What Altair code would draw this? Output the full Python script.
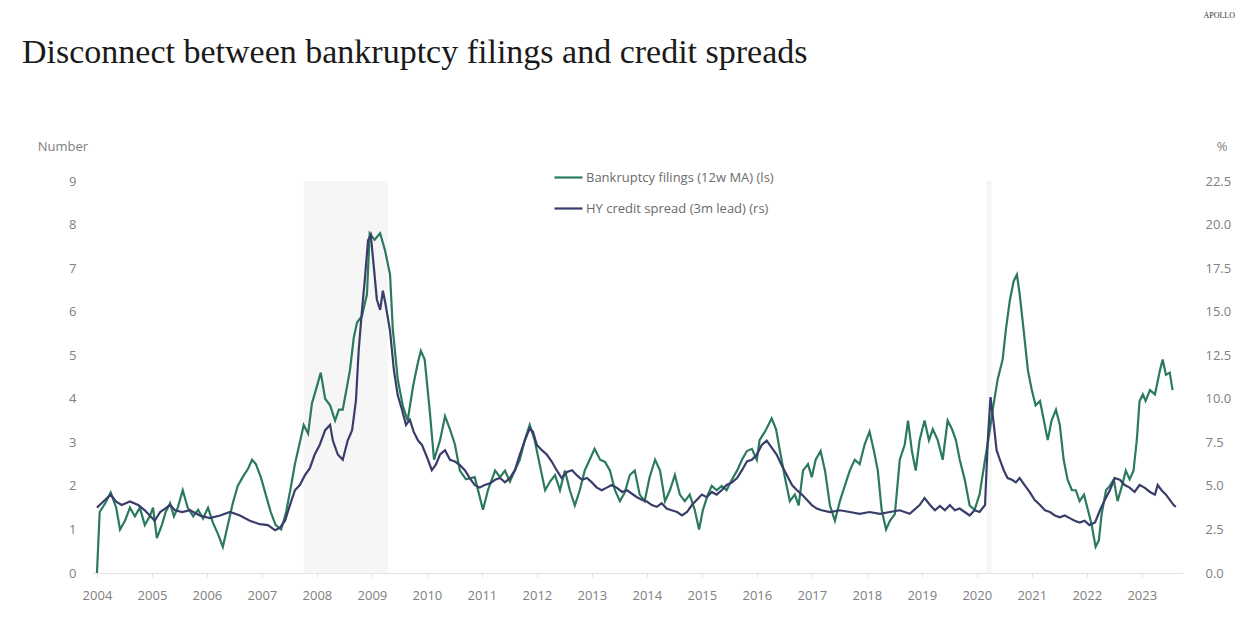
import altair as alt
import pandas as pd

TITLE = "Disconnect between bankruptcy filings and credit spreads"
SERIES = ["Bankruptcy filings (12w MA) (ls)", "HY credit spread (3m lead) (rs)"]
COLORS = ["#2b7a5e", "#383d6a"]

# Bankruptcy filings, 12-week moving average (left axis, number)
bk_year = [2004.00, 2004.05, 2004.15, 2004.25, 2004.35, 2004.42, 2004.51, 2004.60, 2004.69, 2004.78,
           2004.87, 2004.96, 2005.02, 2005.09, 2005.18, 2005.25, 2005.33, 2005.40, 2005.47, 2005.56,
           2005.65, 2005.75, 2005.84, 2005.93, 2006.02, 2006.11, 2006.20, 2006.29, 2006.38, 2006.47,
           2006.56, 2006.65, 2006.75, 2006.82, 2006.89, 2006.98, 2007.07, 2007.16, 2007.25, 2007.35,
           2007.44, 2007.53, 2007.60, 2007.69, 2007.76, 2007.84, 2007.91, 2007.98, 2008.07, 2008.15,
           2008.24, 2008.33, 2008.40, 2008.47, 2008.55, 2008.60, 2008.67, 2008.73, 2008.82, 2008.91,
           2008.96, 2009.05, 2009.15, 2009.24, 2009.33, 2009.38, 2009.47, 2009.56, 2009.65, 2009.75,
           2009.84, 2009.89, 2009.96, 2010.05, 2010.13, 2010.24, 2010.33, 2010.42, 2010.51, 2010.60,
           2010.71, 2010.87, 2011.02, 2011.11, 2011.24, 2011.33, 2011.42, 2011.51, 2011.60, 2011.69,
           2011.78, 2011.87, 2011.96, 2012.05, 2012.15, 2012.24, 2012.33, 2012.42, 2012.51, 2012.60,
           2012.69, 2012.78, 2012.87, 2012.96, 2013.05, 2013.15, 2013.24, 2013.33, 2013.42, 2013.51,
           2013.60, 2013.69, 2013.78, 2013.87, 2013.96, 2014.05, 2014.15, 2014.24, 2014.33, 2014.42,
           2014.51, 2014.60, 2014.69, 2014.78, 2014.87, 2014.95, 2015.02, 2015.11, 2015.18, 2015.27,
           2015.36, 2015.45, 2015.55, 2015.64, 2015.73, 2015.82, 2015.91, 2016.00, 2016.05, 2016.15,
           2016.27, 2016.35, 2016.42, 2016.51, 2016.60, 2016.69, 2016.76, 2016.84, 2016.93, 2017.00,
           2017.07, 2017.16, 2017.24, 2017.33, 2017.42, 2017.51, 2017.60, 2017.69, 2017.78, 2017.87,
           2017.96, 2018.05, 2018.13, 2018.20, 2018.27, 2018.35, 2018.42, 2018.51, 2018.60, 2018.69,
           2018.75, 2018.82, 2018.89, 2018.96, 2019.05, 2019.13, 2019.20, 2019.29, 2019.38, 2019.47,
           2019.55, 2019.62, 2019.69, 2019.78, 2019.87, 2019.96, 2020.05, 2020.15, 2020.24, 2020.29,
           2020.38, 2020.47, 2020.53, 2020.60, 2020.67, 2020.73, 2020.78, 2020.85, 2020.93, 2021.00,
           2021.07, 2021.15, 2021.22, 2021.29, 2021.36, 2021.44, 2021.51, 2021.58, 2021.65, 2021.73,
           2021.80, 2021.87, 2021.95, 2022.02, 2022.09, 2022.16, 2022.22, 2022.27, 2022.35, 2022.42,
           2022.49, 2022.56, 2022.64, 2022.71, 2022.78, 2022.85, 2022.91, 2022.96, 2023.02, 2023.07,
           2023.15, 2023.24, 2023.33, 2023.38, 2023.44, 2023.51, 2023.56]
bk_val = [0.0, 1.4, 1.6, 1.85, 1.5, 1.0, 1.2, 1.5, 1.3, 1.5,
          1.1, 1.3, 1.5, 0.8, 1.1, 1.4, 1.6, 1.3, 1.5, 1.9,
          1.5, 1.3, 1.45, 1.25, 1.5, 1.15, 0.9, 0.6, 1.1, 1.6,
          2.0, 2.2, 2.4, 2.6, 2.5, 2.2, 1.8, 1.4, 1.1, 1.0,
          1.4, 2.0, 2.5, 3.0, 3.4, 3.2, 3.9, 4.2, 4.6, 4.0,
          3.85, 3.5, 3.75, 3.75, 4.3, 4.65, 5.4, 5.75, 5.9, 6.4,
          7.8, 7.65, 7.8, 7.4, 6.85, 5.6, 4.45, 3.85, 3.5, 4.3,
          4.85, 5.1, 4.9, 3.75, 2.6, 3.05, 3.6, 3.3, 2.95, 2.35,
          2.15, 2.2, 1.45, 1.9, 2.35, 2.2, 2.35, 2.1, 2.35, 2.6,
          3.05, 3.4, 3.05, 2.5, 1.9, 2.1, 2.25, 1.9, 2.35, 1.9,
          1.55, 1.9, 2.35, 2.6, 2.85, 2.6, 2.55, 2.35, 1.9, 1.65,
          1.85, 2.25, 2.35, 1.8, 1.65, 2.2, 2.6, 2.35, 1.65, 1.9,
          2.25, 1.8, 1.65, 1.8, 1.45, 1.0, 1.45, 1.8, 2.0, 1.9,
          2.0, 1.9, 2.15, 2.35, 2.6, 2.8, 2.85, 2.6, 3.05, 3.25,
          3.55, 3.3, 2.8, 2.2, 1.65, 1.8, 1.55, 2.35, 2.5, 2.2,
          2.6, 2.8, 2.35, 1.55, 1.2, 1.65, 2.0, 2.35, 2.6, 2.5,
          2.95, 3.25, 2.8, 2.35, 1.45, 1.0, 1.2, 1.35, 2.6, 2.95,
          3.5, 2.8, 2.35, 3.05, 3.5, 3.05, 3.3, 3.05, 2.6, 3.5,
          3.3, 3.05, 2.6, 2.15, 1.55, 1.45, 1.8, 2.6, 3.3, 3.75,
          4.45, 4.9, 5.6, 6.25, 6.7, 6.85, 6.4, 5.6, 4.65, 4.2,
          3.85, 3.95, 3.5, 3.05, 3.5, 3.75, 3.4, 2.6, 2.15, 1.9,
          1.9, 1.65, 1.8, 1.45, 1.1, 0.6, 0.75, 1.35, 1.9, 2.0,
          2.15, 1.65, 2.0, 2.35, 2.15, 2.35, 3.05, 3.95, 4.1, 3.95,
          4.2, 4.1, 4.65, 4.9, 4.55, 4.6, 4.2]

# HY credit spread, 3-month lead (right axis, %)
hy_year = [2004.00, 2004.05, 2004.15, 2004.25, 2004.35, 2004.45, 2004.60, 2004.75, 2004.87, 2004.96,
           2005.05, 2005.15, 2005.24, 2005.33, 2005.42, 2005.55, 2005.69, 2005.87, 2006.05, 2006.24,
           2006.42, 2006.60, 2006.78, 2006.96, 2007.11, 2007.24, 2007.33, 2007.42, 2007.51, 2007.60,
           2007.69, 2007.78, 2007.87, 2007.96, 2008.05, 2008.15, 2008.24, 2008.29, 2008.38, 2008.47,
           2008.56, 2008.64, 2008.71, 2008.76, 2008.82, 2008.87, 2008.93, 2008.98, 2009.04, 2009.09,
           2009.15, 2009.20, 2009.25, 2009.33, 2009.40, 2009.47, 2009.55, 2009.62, 2009.69, 2009.76,
           2009.84, 2009.91, 2010.02, 2010.09, 2010.16, 2010.24, 2010.33, 2010.42, 2010.51, 2010.60,
           2010.69, 2010.78, 2010.87, 2010.96, 2011.05, 2011.15, 2011.24, 2011.33, 2011.42, 2011.51,
           2011.60, 2011.69, 2011.78, 2011.87, 2011.93, 2012.00, 2012.09, 2012.18, 2012.27, 2012.36,
           2012.45, 2012.55, 2012.64, 2012.73, 2012.82, 2012.91, 2013.00, 2013.09, 2013.18, 2013.27,
           2013.36, 2013.45, 2013.55, 2013.64, 2013.73, 2013.82, 2013.91, 2014.00, 2014.09, 2014.18,
           2014.27, 2014.36, 2014.45, 2014.55, 2014.64, 2014.73, 2014.82, 2014.91, 2015.00, 2015.09,
           2015.18, 2015.27, 2015.36, 2015.45, 2015.55, 2015.64, 2015.73, 2015.82, 2015.91, 2016.00,
           2016.09, 2016.18, 2016.27, 2016.36, 2016.45, 2016.55, 2016.64, 2016.73, 2016.82, 2016.91,
           2017.00, 2017.09, 2017.18, 2017.33, 2017.51, 2017.69, 2017.87, 2018.05, 2018.24, 2018.42,
           2018.60, 2018.78, 2018.96, 2019.05, 2019.15, 2019.24, 2019.33, 2019.42, 2019.51, 2019.60,
           2019.69, 2019.78, 2019.87, 2019.96, 2020.05, 2020.15, 2020.20, 2020.25, 2020.31, 2020.36,
           2020.42, 2020.49, 2020.56, 2020.64, 2020.71, 2020.78, 2020.87, 2020.96, 2021.05, 2021.15,
           2021.24, 2021.33, 2021.42, 2021.51, 2021.60, 2021.69, 2021.78, 2021.87, 2021.96, 2022.05,
           2022.15, 2022.24, 2022.33, 2022.42, 2022.51, 2022.60, 2022.69, 2022.78, 2022.87, 2022.96,
           2023.05, 2023.15, 2023.24, 2023.29, 2023.36, 2023.44, 2023.51, 2023.58, 2023.62]
hy_val = [3.75, 3.9, 4.2, 4.5, 4.1, 3.9, 4.1, 3.9, 3.6, 3.3,
          3.0, 3.5, 3.7, 3.9, 3.6, 3.5, 3.6, 3.3, 3.15, 3.3,
          3.5, 3.3, 3.0, 2.8, 2.75, 2.45, 2.6, 3.0, 3.9, 4.75,
          5.05, 5.6, 6.0, 6.8, 7.35, 8.2, 8.5, 7.6, 6.8, 6.5,
          7.6, 8.2, 9.9, 12.8, 15.1, 16.8, 19.1, 19.4, 17.4, 15.7,
          15.1, 16.2, 15.4, 13.9, 11.65, 10.2, 9.35, 8.5, 8.8, 8.1,
          7.6, 7.35, 6.5, 5.9, 6.2, 6.8, 7.05, 6.5, 6.4, 6.2,
          5.9, 5.45, 5.05, 4.9, 5.05, 5.15, 5.35, 5.45, 5.2, 5.45,
          5.9, 6.8, 7.6, 8.3, 8.1, 7.35, 7.05, 6.8, 6.4, 5.9,
          5.45, 5.8, 5.9, 5.6, 5.35, 5.45, 5.2, 4.9, 4.75, 4.9,
          5.05, 4.9, 4.65, 4.75, 4.55, 4.35, 4.2, 4.1, 3.9, 3.8,
          4.0, 3.7, 3.6, 3.5, 3.3, 3.5, 3.9, 4.2, 4.5, 4.35,
          4.65, 4.5, 4.75, 5.05, 5.2, 5.45, 5.9, 6.4, 6.5, 6.8,
          7.35, 7.6, 7.2, 6.8, 6.2, 5.6, 5.05, 4.75, 4.5, 4.2,
          3.9, 3.7, 3.6, 3.5, 3.6, 3.5, 3.4, 3.5, 3.4, 3.5,
          3.6, 3.4, 3.9, 4.3, 3.9, 3.6, 3.85, 3.6, 3.9, 3.6,
          3.7, 3.5, 3.3, 3.6, 3.5, 3.9, 7.6, 10.1, 8.5, 7.05,
          6.5, 5.9, 5.45, 5.35, 5.2, 5.45, 5.05, 4.65, 4.2, 3.9,
          3.6, 3.5, 3.3, 3.2, 3.3, 3.15, 3.0, 2.9, 3.0, 2.75,
          2.9, 3.6, 4.2, 4.75, 5.45, 5.35, 5.05, 4.9, 4.65, 5.05,
          4.9, 4.65, 4.5, 5.05, 4.75, 4.5, 4.2, 3.9, 3.8]

year_ticks = list(range(2004, 2024))
left_ticks = list(range(0, 10))
right_ticks = [0.0, 2.5, 5.0, 7.5, 10.0, 12.5, 15.0, 17.5, 20.0, 22.5]

rec_start = [2007.76, 2020.18]
rec_end = [2009.29, 2020.27]

bk = pd.DataFrame({"year": bk_year, "value": bk_val, "series": SERIES[0]})
hy = pd.DataFrame({"year": hy_year, "value": hy_val, "series": SERIES[1]})
rec = pd.DataFrame({"start": rec_start, "end": rec_end})

FONT = "Open Sans"
GRAY = "#808080"

xscale = alt.Scale(domain=[2003.91, 2023.75], nice=False, zero=False)
xaxis = alt.Axis(values=year_ticks, format="d", grid=False, title=None,
                 domainColor="#e3e3e3", domainWidth=1, tickColor="#e3e3e3", tickSize=4,
                 labelColor=GRAY, labelFont=FONT, labelFontSize=13, labelPadding=12)

color = alt.Color("series:N",
                  scale=alt.Scale(domain=SERIES, range=COLORS),
                  legend=alt.Legend(orient="none", legendX=461, legendY=-19, title=None,
                                    symbolType="stroke", symbolSize=784, symbolStrokeWidth=2.2,
                                    labelFont=FONT, labelFontSize=13, labelColor="#6b6b6b",
                                    labelLimit=0, labelOffset=2, rowPadding=8, padding=0))

shade = alt.Chart(rec).mark_rect(color="#f6f6f6").encode(
    x=alt.X("start:Q", scale=xscale, axis=xaxis),
    x2="end:Q",
)

hy_line = alt.Chart(hy).mark_line(strokeWidth=2.2).encode(
    x=alt.X("year:Q", scale=xscale, axis=xaxis),
    y=alt.Y("value:Q", scale=alt.Scale(domain=[0, 22.5], nice=False),
            axis=alt.Axis(orient="right", values=right_ticks, format=".1f", grid=False,
                          domain=False, ticks=False, title=None, labelPadding=22,
                          labelColor=GRAY, labelFont=FONT, labelFontSize=13)),
    color=color,
)

bk_line = alt.Chart(bk).mark_line(strokeWidth=2.2).encode(
    x=alt.X("year:Q", scale=xscale, axis=xaxis),
    y=alt.Y("value:Q", scale=alt.Scale(domain=[0, 9], nice=False),
            axis=alt.Axis(orient="left", values=left_ticks, format="d", grid=False,
                          domain=False, ticks=False, title=None, labelPadding=16,
                          labelColor=GRAY, labelFont=FONT, labelFontSize=13)),
    color=color,
)


def label(text, px, py, **kw):
    return alt.Chart(pd.DataFrame({"t": [text]})).mark_text(**kw).encode(
        text="t:N", x=alt.value(px), y=alt.value(py))


title = label(TITLE, -70, -118, align="left", baseline="alphabetic",
              font="Liberation Serif", fontSize=34, color="#1a1a1a")
brand = label("APOLLO", 1143, -165, align="right", baseline="middle",
              font="Liberation Serif", fontSize=8, color="#333333")
lunit = label("Number", -29, -34, align="center", baseline="middle",
              font=FONT, fontSize=13, color=GRAY)
runit = label("%", 1130, -34, align="center", baseline="middle",
              font=FONT, fontSize=13, color=GRAY)

chart = alt.layer(shade, bk_line, hy_line, title, brand, lunit, runit).resolve_scale(
    y="independent"
).properties(
    width=1091, height=392,
    padding={"left": 84, "top": 173, "right": 55, "bottom": 38},
    autosize=alt.AutoSizeParams(type="none"),
    background="white",
).configure_view(stroke=None)

chart.save("out.html", embed_options={"renderer": "svg", "actions": False})
